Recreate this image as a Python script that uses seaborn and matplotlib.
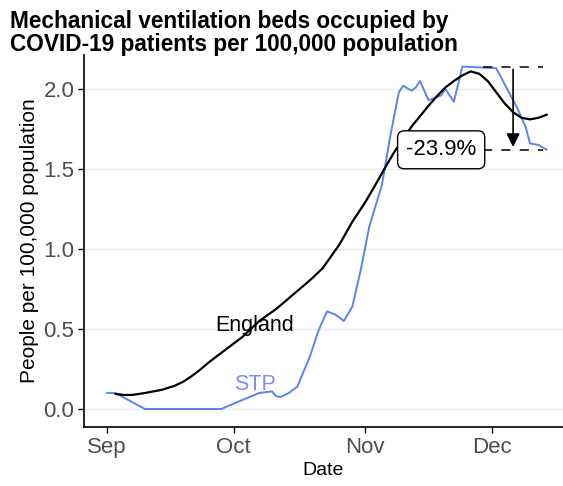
import matplotlib
matplotlib.use("Agg")
import matplotlib.pyplot as plt
import matplotlib.dates as mdates
import pandas as pd
import seaborn as sns

# England, readings
eng_dates = ["2020-09-03", "2020-09-05", "2020-09-07", "2020-09-10", "2020-09-14",
             "2020-09-17", "2020-09-19", "2020-09-21", "2020-09-23", "2020-09-25",
             "2020-09-27", "2020-09-30", "2020-10-03", "2020-10-07", "2020-10-11",
             "2020-10-15", "2020-10-19", "2020-10-22", "2020-10-24", "2020-10-26",
             "2020-10-29", "2020-11-01", "2020-11-03", "2020-11-06", "2020-11-08",
             "2020-11-12", "2020-11-16", "2020-11-18", "2020-11-20", "2020-11-22",
             "2020-11-24", "2020-11-26", "2020-11-28", "2020-11-30", "2020-12-02",
             "2020-12-04", "2020-12-06", "2020-12-08", "2020-12-10", "2020-12-12",
             "2020-12-14"]
eng_values = [0.094, 0.088, 0.088, 0.10, 0.12,
              0.145, 0.17, 0.205, 0.245, 0.29,
              0.33, 0.39, 0.45, 0.55, 0.625,
              0.715, 0.805, 0.88, 0.955, 1.03,
              1.17, 1.29, 1.38, 1.52, 1.61,
              1.765, 1.895, 1.955, 2.01, 2.05,
              2.085, 2.11, 2.095, 2.05, 1.98,
              1.91, 1.855, 1.82, 1.81, 1.82,
              1.84]

# STP
stp_dates = ["2020-09-01", "2020-09-03", "2020-09-10", "2020-09-28", "2020-10-02",
             "2020-10-07", "2020-10-10", "2020-10-11", "2020-10-12", "2020-10-14",
             "2020-10-16", "2020-10-19", "2020-10-21", "2020-10-23", "2020-10-25",
             "2020-10-27", "2020-10-29", "2020-10-31", "2020-11-02", "2020-11-05",
             "2020-11-07", "2020-11-09", "2020-11-10", "2020-11-12", "2020-11-13",
             "2020-11-14", "2020-11-16", "2020-11-19", "2020-11-20", "2020-11-22",
             "2020-11-24", "2020-12-02", "2020-12-04", "2020-12-07", "2020-12-09",
             "2020-12-10", "2020-12-12", "2020-12-14"]
stp_values = [0.10, 0.10, 0.0, 0.0, 0.045, 0.10, 0.11, 0.08, 0.075, 0.10,
              0.14, 0.33, 0.49, 0.61, 0.59, 0.55, 0.64, 0.87, 1.14, 1.40,
              1.71, 1.98, 2.02, 1.99, 2.01, 2.05, 1.93, 1.96, 2.00, 1.92,
              2.14, 2.13, 2.03, 1.88, 1.76, 1.66, 1.65, 1.62]

# peak vs latest annotation
peak_value = 2.14
latest_value = 1.62
change_label = "-23.9%"
bracket_start = "2020-11-29"
bracket_end = "2020-12-13"
arrow_date = "2020-12-06"
label_date = "2020-11-19"

y_ticks = [0.0, 0.5, 1.0, 1.5, 2.0]
y_tick_labels = ["0.0", "0.5", "1.0", "1.5", "2.0"]

stp_colour = "#5b84ee"

eng = pd.DataFrame({"date": pd.to_datetime(eng_dates), "value": eng_values})
stp = pd.DataFrame({"date": pd.to_datetime(stp_dates), "value": stp_values})

sns.set_theme(style="white")
plt.rcParams['font.family'] = ['Liberation Sans', 'DejaVu Sans']

fig = plt.figure(figsize=(5.63, 4.86), dpi=100)
ax = fig.add_axes([84 / 563, 1 - 427 / 486, 1 - 84 / 563, (427 - 55) / 486])

ax.yaxis.grid(True, color="#ebebeb", lw=1)
ax.set_axisbelow(True)

sns.lineplot(data=stp, x="date", y="value", color=stp_colour, lw=1.4, ax=ax)
sns.lineplot(data=eng, x="date", y="value", color="black", lw=1.6, ax=ax)

# dashed bracket + arrow
ax.plot(pd.to_datetime([bracket_start, bracket_end]), [peak_value, peak_value],
        color="black", lw=1.1, ls=(0, (6, 6)))
ax.plot(pd.to_datetime([bracket_start, bracket_end]), [latest_value, latest_value],
        color="black", lw=1.1, ls=(0, (6, 6)))
ax.annotate("", xy=(pd.Timestamp(arrow_date), latest_value),
            xytext=(pd.Timestamp(arrow_date), peak_value),
            arrowprops=dict(arrowstyle="-|>", color="black", lw=1.2, mutation_scale=20))
ax.text(pd.Timestamp(label_date), latest_value, change_label, ha="center", va="center",
        fontsize=16, color="black",
        bbox=dict(boxstyle="round,pad=0.38,rounding_size=0.3", fc="white", ec="black", lw=1))

ax.text(pd.Timestamp("2020-10-06"), 0.52, "England", ha="center", va="center",
        fontsize=15.5, color="black")
ax.text(pd.Timestamp("2020-10-06"), 0.155, "STP", ha="center", va="center",
        fontsize=15.5, color="#7b8ff0")

ax.set_xlim(pd.Timestamp("2020-08-26 14:00"), pd.Timestamp("2020-12-17 19:00"))
ax.set_ylim(-0.1125, 2.2125)
ax.xaxis.set_major_locator(mdates.MonthLocator())
ax.xaxis.set_major_formatter(mdates.DateFormatter("%b"))
ax.set_yticks(y_ticks)
ax.set_yticklabels(y_tick_labels)

for side in ["top", "right"]:
    ax.spines[side].set_visible(False)
for side in ["left", "bottom"]:
    ax.spines[side].set_color("black")
    ax.spines[side].set_linewidth(1.2)

ax.tick_params(axis="both", direction="out", length=4, width=1, color="black",
               labelcolor="#4d4d4d", labelsize=16, pad=3, left=True, bottom=True)

ax.set_xlabel("Date", fontsize=14, color="black", labelpad=3)
ax.set_ylabel("People per 100,000 population", fontsize=15, color="black", labelpad=3)

fig.text(10 / 563, 1 - 10 / 486,
         "Mechanical ventilation beds occupied by\nCOVID-19 patients per 100,000 population",
         fontsize=16.3, fontweight="bold", va="top", ha="left", linespacing=1.0, color="black")

fig.savefig("out.png", dpi=100)
